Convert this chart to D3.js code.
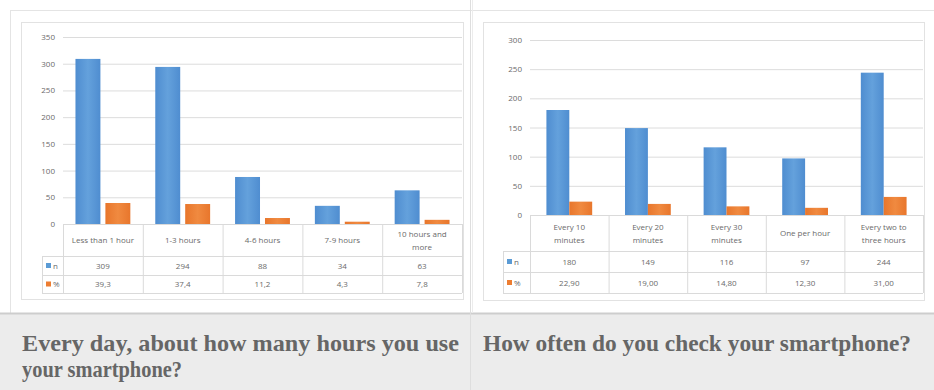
<!DOCTYPE html>
<html>
<head>
<meta charset="utf-8">
<script src="https://cdn.jsdelivr.net/npm/d3@7"></script>
<style>
  body { margin: 0; background: #fff; }
  svg { display: block; }
  .small { font-family: "Open Sans", "Liberation Sans", sans-serif; font-size: 8px; fill: #6a6a6a; }
  .caption { font-family: "Liberation Serif", "DejaVu Serif", serif; font-weight: bold; font-size: 24px; fill: #666; }
</style>
</head>
<body>
<svg id="chart" width="934" height="390"></svg>
<script>
// left panel: daily hours of use
const hoursCategories = [['Less than 1 hour'], ['1-3 hours'], ['4-6 hours'], ['7-9 hours'], ['10 hours and', 'more']]
const hoursN = [309, 294, 88, 34, 63]
const hoursPct = [39.3, 37.4, 11.2, 4.3, 7.8]
const hoursTicks = [0, 50, 100, 150, 200, 250, 300, 350]

// right panel: checking frequency
const checkCategories = [['Every 10', 'minutes'], ['Every 20', 'minutes'], ['Every 30', 'minutes'], ['One per hour'], ['Every two to', 'three hours']]
const checkN = [180, 149, 116, 97, 244]
const checkPct = [22.90, 19.00, 14.80, 12.30, 31.00]
const checkTicks = [0, 50, 100, 150, 200, 250, 300]

const svg = d3.select('#chart')
const comma = (v, digits) => v.toFixed(digits).replace('.', ',')

// bar gradients
const defs = svg.append('defs')
function gradient (id, edge, mid) {
  const g = defs.append('linearGradient').attr('id', id).attr('x1', 0).attr('x2', 1).attr('y1', 0).attr('y2', 0)
  g.append('stop').attr('offset', '0%').attr('stop-color', edge)
  g.append('stop').attr('offset', '50%').attr('stop-color', mid)
  g.append('stop').attr('offset', '100%').attr('stop-color', edge)
}
gradient('blue', '#4f8dd0', '#64a1dc')
gradient('orange', '#e8762c', '#f08a40')

// page frame and caption band
svg.append('line').attr('x1', 10).attr('x2', 934).attr('y1', 10.5).attr('y2', 10.5).attr('stroke', '#e4e4e4')
svg.append('line').attr('x1', 10.5).attr('x2', 10.5).attr('y1', 10).attr('y2', 313).attr('stroke', '#e4e4e4')
svg.append('rect').attr('x', 0).attr('y', 313).attr('width', 934).attr('height', 77).attr('fill', '#ececec')
svg.append('line').attr('x1', 0).attr('x2', 934).attr('y1', 313.5).attr('y2', 313.5).attr('stroke', '#cdcdcd').attr('stroke-width', 2)
svg.append('line').attr('x1', 470.5).attr('x2', 470.5).attr('y1', 0).attr('y2', 390).attr('stroke', '#dedede')
svg.append('line').attr('x1', 472.5).attr('x2', 472.5).attr('y1', 0).attr('y2', 313).attr('stroke', '#ececec')

function drawPanel (opt) {
  const g = svg.append('g')
  g.append('rect')
    .attr('x', opt.frame[0] + 0.5).attr('y', opt.frame[1] + 0.5)
    .attr('width', opt.frame[2] - opt.frame[0]).attr('height', opt.frame[3] - opt.frame[1])
    .attr('fill', '#fff').attr('stroke', '#e2e2e2')

  const x = d3.scaleBand().domain(d3.range(opt.categories.length)).range([opt.plotX[0], opt.plotX[1]])
  const y = d3.scaleLinear().domain([0, d3.max(opt.ticks)]).range([opt.rows[0], opt.plotTop])
  const bw = x.bandwidth()
  const inner = d3.scaleBand().domain(['n', 'pct'])
    .range([bw * (1 - opt.group) / 2, bw * (1 + opt.group) / 2])
    .paddingInner(opt.gap)

  // gridlines + y axis labels
  const axis = d3.axisLeft(y).tickValues(opt.ticks).tickSize(-(opt.plotX[1] - opt.plotX[0])).tickPadding(8)
  const ax = g.append('g').attr('transform', `translate(${opt.plotX[0]},0)`).call(axis)
  ax.select('.domain').remove()
  ax.selectAll('.tick line').attr('stroke', '#dcdcdc')
  ax.selectAll('.tick').filter(d => d === 0).select('line').remove()
  ax.selectAll('.tick text').attr('class', 'small').attr('font-size', null).attr('font-family', null).attr('fill', null)

  // bars
  const rowsData = d3.range(opt.categories.length)
  g.selectAll('.barN').data(rowsData).join('rect')
    .attr('x', i => x(i) + inner('n'))
    .attr('y', i => y(opt.n[i]))
    .attr('width', inner.bandwidth())
    .attr('height', i => y(0) - y(opt.n[i]))
    .attr('fill', 'url(#blue)')
  g.selectAll('.barP').data(rowsData).join('rect')
    .attr('x', i => x(i) + inner('pct'))
    .attr('y', i => y(opt.pct[i]))
    .attr('width', inner.bandwidth())
    .attr('height', i => y(0) - y(opt.pct[i]))
    .attr('fill', 'url(#orange)')

  // data table
  const [r0, r1, r2, r3] = opt.rows
  const stroke = '#dadada'
  const hline = (x1, x2, yy) => g.append('line').attr('x1', x1).attr('x2', x2).attr('y1', yy + 0.5).attr('y2', yy + 0.5).attr('stroke', stroke)
  const vline = (xx, y1, y2) => g.append('line').attr('x1', xx + 0.5).attr('x2', xx + 0.5).attr('y1', y1).attr('y2', y2).attr('stroke', stroke)
  hline(opt.plotX[0], opt.plotX[1], r0)
  hline(opt.legendX, opt.plotX[1], r1)
  hline(opt.legendX, opt.plotX[1], r2)
  hline(opt.legendX, opt.plotX[1], r3)
  vline(opt.legendX, r1, r3)
  d3.range(opt.categories.length + 1).forEach(i => {
    const xx = i < opt.categories.length ? x(i) : opt.plotX[1]
    vline(xx, r0, r3)
  })

  rowsData.forEach(i => {
    const cx = x(i) + bw / 2
    const lines = opt.categories[i]
    const cy = (r0 + r1) / 2
    lines.forEach((t, k) => {
      g.append('text').attr('class', 'small').attr('text-anchor', 'middle')
        .attr('x', cx).attr('y', cy + (k - (lines.length - 1) / 2) * 13 + 3)
        .text(t)
    })
    g.append('text').attr('class', 'small').attr('text-anchor', 'middle')
      .attr('x', cx).attr('y', (r1 + r2) / 2 + 3).text(opt.n[i])
    g.append('text').attr('class', 'small').attr('text-anchor', 'middle')
      .attr('x', cx).attr('y', (r2 + r3) / 2 + 3).text(comma(opt.pct[i], opt.digits))
  })

  // legend keys
  const keys = [['n', '#5b9bd5', (r1 + r2) / 2], ['%', '#ed7d31', (r2 + r3) / 2]]
  keys.forEach(([label, color, cy]) => {
    g.append('rect').attr('x', opt.legendX + 4).attr('y', cy - 2.5).attr('width', 5).attr('height', 5).attr('fill', color)
    g.append('text').attr('class', 'small').attr('x', opt.legendX + 11).attr('y', cy + 3).text(label)
  })

  // caption
  opt.caption.forEach((t, k) => {
    g.append('text').attr('class', 'caption')
      .attr('x', opt.captionX).attr('y', 351 + k * 26)
      .attr('textLength', opt.captionWidths[k]).attr('lengthAdjust', 'spacingAndGlyphs')
      .text(t)
  })
}

drawPanel({
  frame: [21, 22, 463, 299],
  plotX: [63, 462],
  plotTop: 37,
  rows: [224, 256, 275, 293],
  legendX: 42,
  group: 55 / 80,
  gap: 1 / 6,
  categories: hoursCategories,
  n: hoursN,
  pct: hoursPct,
  ticks: hoursTicks,
  digits: 1,
  caption: ['Every day, about how many hours you use', 'your smartphone?'],
  captionX: 22,
  captionWidths: [437, 160]
})

drawPanel({
  frame: [483, 22, 924, 300],
  plotX: [530, 923],
  plotTop: 40,
  rows: [215, 251, 272, 293],
  legendX: 503,
  group: 46 / 79,
  gap: 0,
  categories: checkCategories,
  n: checkN,
  pct: checkPct,
  ticks: checkTicks,
  digits: 2,
  caption: ['How often do you check your smartphone?'],
  captionX: 483,
  captionWidths: [428]
})
</script>
</body>
</html>
